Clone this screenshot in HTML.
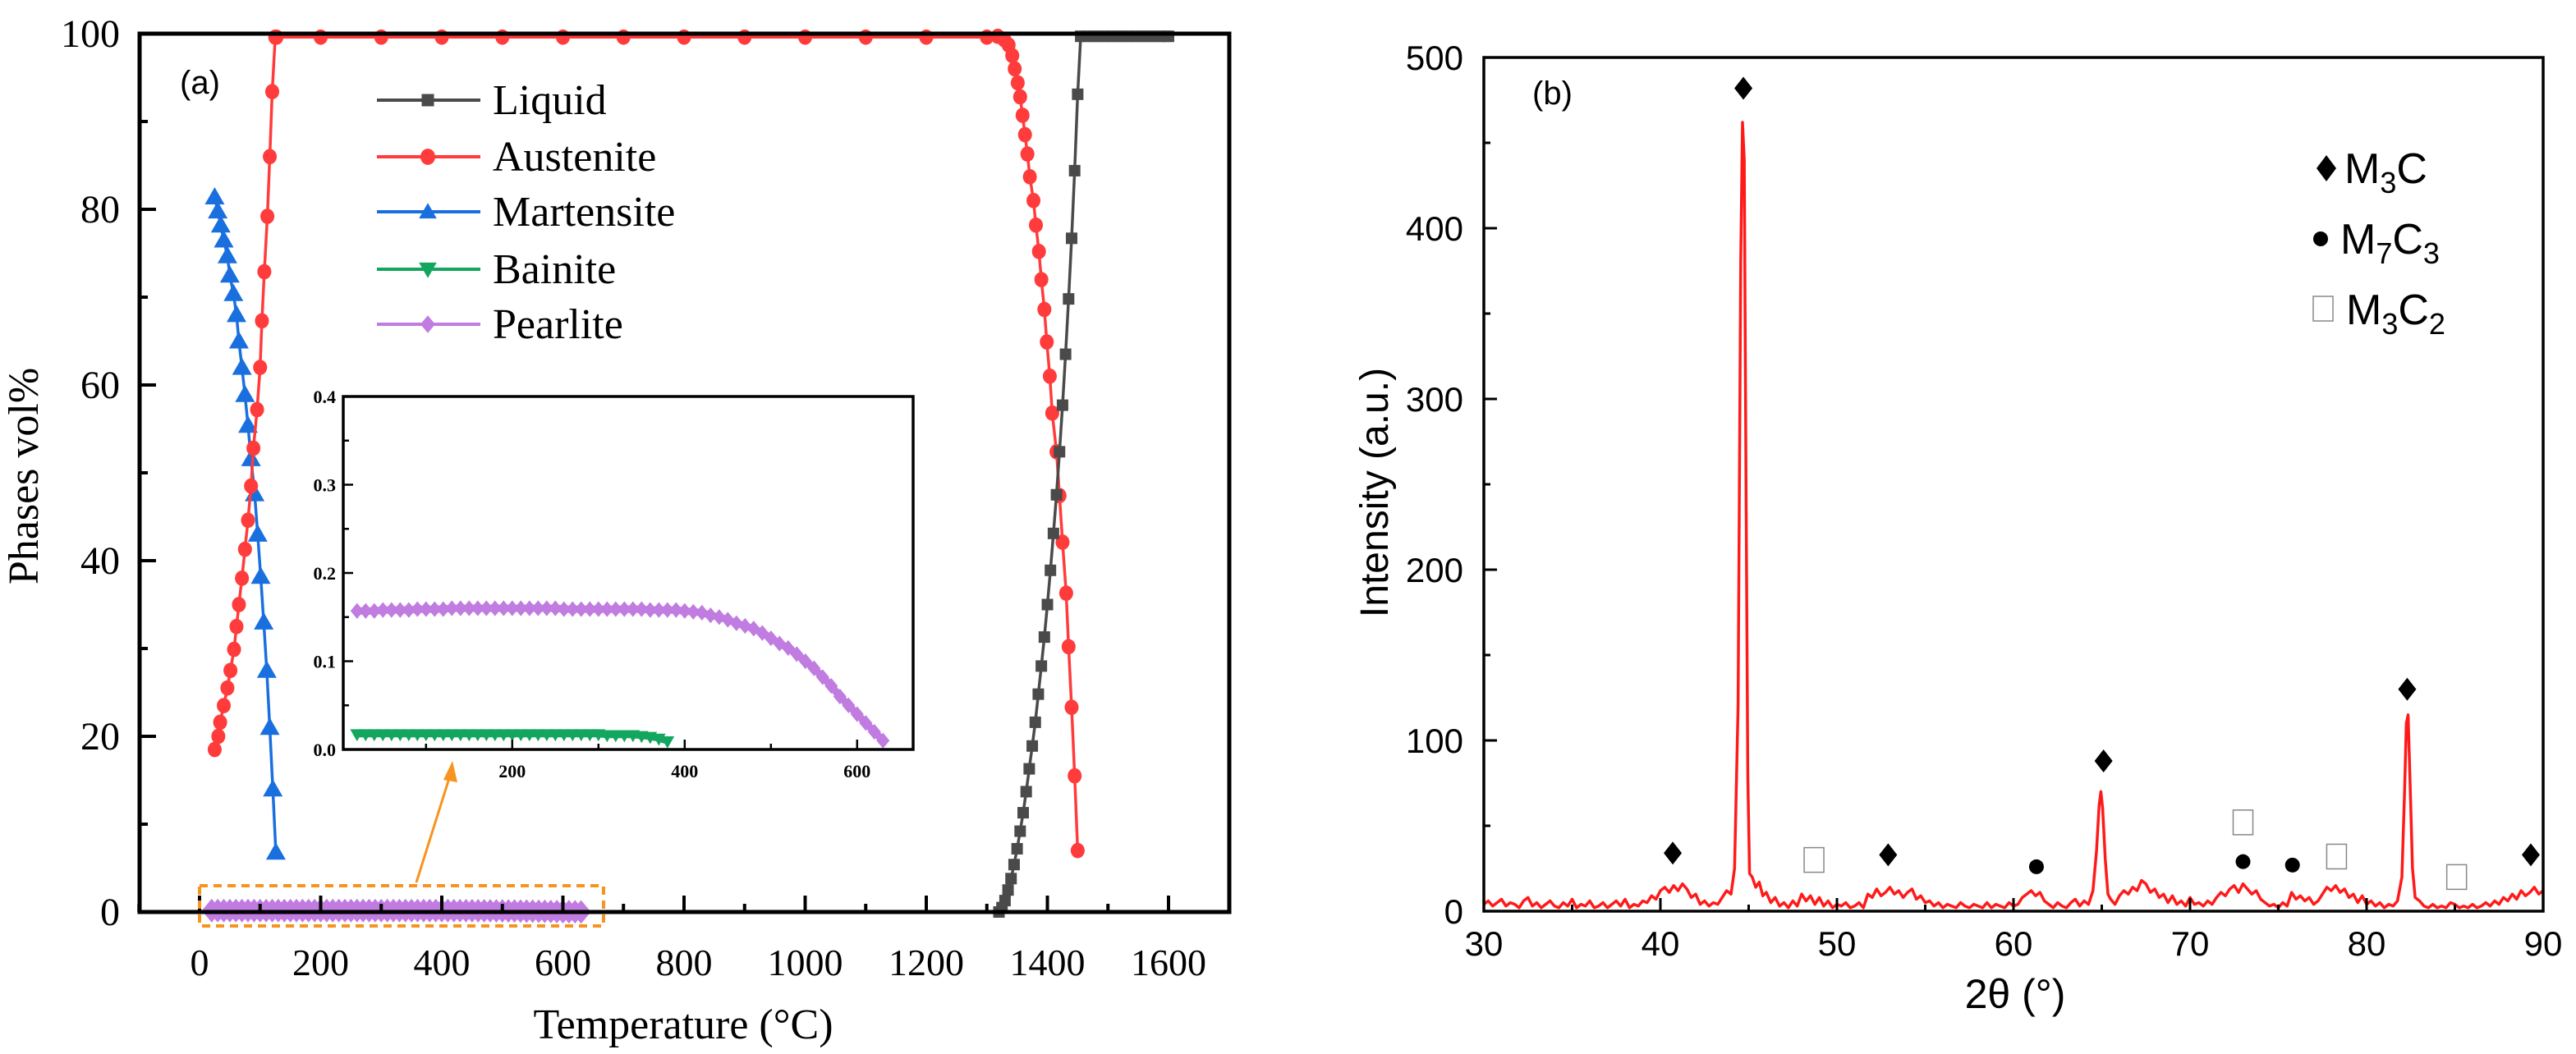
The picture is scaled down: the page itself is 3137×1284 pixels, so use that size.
<!DOCTYPE html>
<html><head><meta charset="utf-8"><style>
html,body{margin:0;padding:0;background:#fff;}
svg{display:block;}
.serif{font-family:"Liberation Serif",serif;}
.sans{font-family:"Liberation Sans",sans-serif;}
</style></head><body>
<svg id="fig" width="3137" height="1284" viewBox="0 0 3137 1284" xmlns="http://www.w3.org/2000/svg">
<rect width="3137" height="1284" fill="#fff"/>
<g id="left"></g>
<g id="inset"></g>
<g id="right"></g>
</svg>
<script>
// ---------- Panel (a) data ----------
const liqT = [1320,1325,1330,1335,1340,1345,1350,1355,1360,1365,1370,1375,1380,1385,1390,1395,1400,1405,1410,1415,1420,1425,1430,1435,1440,1445,1450,1455,1465,1475,1485,1495,1505,1515,1525,1535,1545,1555,1565,1575,1585,1595,1600];
const liqV = [0,0.5,1.3,2.5,3.8,5.4,7.2,9.2,11.3,13.7,16.3,18.9,21.6,24.8,28,31.3,35,38.9,43.1,47.5,52.4,57.7,63.5,69.8,76.7,84.4,93.1,99.7,99.7,99.7,99.7,99.7,99.7,99.7,99.7,99.7,99.7,99.7,99.7,99.7,99.7,99.7,99.7];
const ausT = [25,31,34,40,46,51,57,61,65,70,75,80,85,89,95,100,103,107,112,116,120,125,127,200,300,400,500,600,700,800,900,1000,1100,1200,1300,1318,1329,1336,1342,1346,1351,1355,1359,1363,1367,1371,1377,1381,1386,1390,1395,1399,1404,1408,1415,1420,1425,1431,1435,1440,1445,1450];
const ausV = [18.5,20,21.6,23.5,25.5,27.5,29.9,32.5,35,38,41.3,44.6,48.5,52.8,57.2,62,67.3,72.9,79.2,86,93.4,99.6,99.6,99.6,99.6,99.6,99.6,99.6,99.6,99.6,99.6,99.6,99.6,99.6,99.6,99.7,99.3,98.7,97.5,96,94.4,92.8,90.7,88.5,86.3,83.7,81,78.2,75.2,72,68.6,64.9,61,56.8,52.4,47.4,42.1,36.3,30.2,23.3,15.5,7];
const marT = [25,30,35,40,46,50,56,61,65,70,75,80,85,91,96,101,106,111,116,121,126];
const marV = [81.4,79.8,78.2,76.5,74.7,72.5,70.4,68,65,62,58.9,55.4,51.6,47.6,43,38.2,33,27.5,21,14,6.8];
const baiT = [20,30,40,50,60,70,80,90,100,110,120,130,140,150,160,170,180,190,200,210,220,230,240,250,260,270,280,290,300,310,320,330,340,350,360,370,380];
const baiV = [0.017,0.017,0.017,0.017,0.017,0.017,0.017,0.017,0.017,0.017,0.017,0.017,0.017,0.017,0.017,0.017,0.017,0.017,0.017,0.017,0.017,0.017,0.017,0.017,0.017,0.017,0.017,0.017,0.017,0.016,0.016,0.016,0.016,0.015,0.014,0.012,0.009];
const peaT = [20,30,40,50,60,70,80,90,100,110,120,130,140,150,160,170,180,190,200,210,220,230,240,250,260,270,280,290,300,310,320,330,340,350,360,370,380,390,400,410,420,430,440,450,460,470,480,490,500,510,520,530,540,550,560,570,580,590,600,610,620,630];
const peaV = [0.157,0.157,0.157,0.158,0.158,0.158,0.158,0.159,0.159,0.159,0.159,0.160,0.160,0.160,0.160,0.160,0.160,0.160,0.160,0.160,0.160,0.160,0.160,0.160,0.159,0.159,0.159,0.159,0.159,0.159,0.159,0.159,0.159,0.159,0.158,0.158,0.158,0.158,0.157,0.156,0.155,0.152,0.150,0.147,0.143,0.140,0.137,0.132,0.126,0.120,0.115,0.108,0.100,0.092,0.082,0.072,0.060,0.050,0.040,0.030,0.020,0.010];
const xTicksA = [0,200,400,600,800,1000,1200,1400,1600];
const yTicksA = [0,20,40,60,80,100];
const xTicksIn = [200,400,600];
const yTicksIn = ["0.0","0.1","0.2","0.3","0.4"];
// ---------- Panel (b) data ----------
const xrdX = [30,30.25,30.5,30.75,31,31.25,31.5,31.75,32,32.25,32.5,32.75,33,33.25,33.5,33.75,34,34.25,34.5,34.75,35,35.25,35.5,35.75,36,36.25,36.5,36.75,37,37.25,37.5,37.75,38,38.25,38.5,38.75,39,39.25,39.5,39.75,40,40.25,40.5,40.75,41,41.25,41.5,41.75,42,42.25,42.5,42.75,43,43.25,43.5,43.75,44,44.2,44.4,44.55,44.65,44.75,44.85,44.95,45.05,45.2,45.4,45.6,45.8,46,46.25,46.5,46.75,47,47.25,47.5,47.75,48,48.25,48.5,48.75,49,49.25,49.5,49.75,50,50.25,50.5,50.75,51,51.25,51.5,51.75,52,52.25,52.5,52.75,53,53.25,53.5,53.75,54,54.25,54.5,54.75,55,55.25,55.5,55.75,56,56.25,56.5,56.75,57,57.25,57.5,57.75,58,58.25,58.5,58.75,59,59.25,59.5,59.75,60,60.25,60.5,60.75,61,61.25,61.5,61.75,62,62.25,62.5,62.75,63,63.25,63.5,63.75,64,64.25,64.5,64.7,64.85,64.95,65.05,65.2,65.35,65.5,65.75,66,66.25,66.5,66.75,67,67.25,67.5,67.75,68,68.25,68.5,68.75,69,69.25,69.5,69.75,70,70.25,70.5,70.75,71,71.25,71.5,71.75,72,72.25,72.5,72.75,73,73.25,73.5,73.75,74,74.25,74.5,74.75,75,75.25,75.5,75.75,76,76.25,76.5,76.75,77,77.25,77.5,77.75,78,78.25,78.5,78.75,79,79.25,79.5,79.75,80,80.25,80.5,80.75,81,81.25,81.5,81.75,82,82.15,82.25,82.35,82.45,82.6,82.75,83,83.25,83.5,83.75,84,84.25,84.5,84.75,85,85.25,85.5,85.75,86,86.25,86.5,86.75,87,87.25,87.5,87.75,88,88.25,88.5,88.75,89,89.25,89.5,89.75,90];
const xrdY = [4,6,3,5,7,3,5,4,2,6,8,3,5,2,4,6,3,2,5,3,7,2,4,3,6,2,3,5,2,4,6,3,7,2,4,3,6,5,9,7,12,14,11,15,12,16,13,8,10,4,6,3,5,4,8,12,10,25,120,380,462,440,250,80,22,20,14,17,9,11,5,8,3,5,2,6,3,10,6,9,4,8,3,6,2,4,3,5,2,3,5,2,10,8,13,9,11,14,10,12,8,11,13,7,9,5,6,3,5,2,4,3,2,5,3,2,4,3,2,5,2,4,3,2,5,3,4,8,10,12,9,11,6,4,2,5,3,2,5,7,3,6,4,12,35,62,70,60,30,10,7,4,9,12,10,14,12,18,16,11,13,8,10,5,9,4,6,3,8,4,5,3,6,4,8,11,9,13,15,11,16,13,10,12,7,5,3,4,2,5,3,11,7,9,6,8,4,6,10,14,12,15,11,13,8,10,5,9,4,6,3,5,2,4,3,6,20,70,110,115,80,25,8,6,3,2,4,2,3,2,5,4,2,3,2,4,2,3,5,3,6,4,8,6,10,7,12,9,11,14,10,12];
const m3cX = [40.7,44.7,52.9,65.1,82.3,89.3];
const m3cY = [34,482,33,88,130,33];
const m7c3X = [61.3,73.0,75.8];
const m7c3Y = [26,29,27];
const m3c2X = [48.7,73.0,78.3,85.1];
const m3c2Y = [30,52,32,20];
const xTicksB = [30,40,50,60,70,80,90];
const yTicksB = [0,100,200,300,400,500];

const NS = "http://www.w3.org/2000/svg";
function mk(parent, tag, attrs){ const e=document.createElementNS(NS,tag); for(const k in attrs) e.setAttribute(k,attrs[k]); parent.appendChild(e); return e; }

const lx = T => 243 + T*0.7375, ly = v => 1111 - v*10.7;
const ix = T => 418 + (T-4)*1.05, iy = v => 913 - v*1075;
const rx = t => 1807 + (t-30)*21.5, ry = v => 1110 - v*2.08;

function marker(g, shape, x, y, s, color){
  let e;
  if(shape==='square') e = mk(g,'rect',{x:x-s/2,y:y-s/2,width:s,height:s,fill:color});
  else if(shape==='circle') e = mk(g,'ellipse',{cx:x,cy:y,rx:s/2,ry:s/2*1.1,fill:color});
  else if(shape==='tri') e = mk(g,'polygon',{points:`${x},${y-s*0.6} ${x-s*0.6},${y+s*0.45} ${x+s*0.6},${y+s*0.45}`,fill:color});
  else if(shape==='dtri') e = mk(g,'polygon',{points:`${x},${y+s*0.6} ${x-s*0.6},${y-s*0.45} ${x+s*0.6},${y-s*0.45}`,fill:color});
  else if(shape==='diamond') e = mk(g,'polygon',{points:`${x},${y-s*0.6} ${x+s*0.5},${y} ${x},${y+s*0.6} ${x-s*0.5},${y}`,fill:color});
  return e;
}
function series(g, name, xs, ys, fx, fy, color, shape, s, lw){
  const sg = mk(g,'g',{});
  
  
  const pts = xs.map((x,i)=>fx(x)+','+fy(ys[i])).join(' ');
  const pl = mk(sg,'polyline',{points:pts,fill:'none',stroke:color,'stroke-width':lw,'stroke-linejoin':'round'});
  
  
  xs.forEach((x,i)=>{
    const m = marker(sg, shape, fx(x), fy(ys[i]), s, color);
    
    
  });
}
function text(g, x, y, str, size, cls, anchor, name, extra){
  const t = mk(g,'text',Object.assign({x:x,y:y,'font-size':size,'class':cls,'text-anchor':anchor||'start',fill:'#000'},extra||{}));
  t.textContent = str;
  
  
  return t;
}

// ---------- Panel (a) ----------
const L = document.getElementById('left');
series(L,'bainite-main',baiT,baiV,lx,ly,'#12a65e','dtri',10,2);
series(L,'pearlite-main',peaT,peaV,lx,ly.bind(null),'#c07ce0','diamond',24,12);
series(L,'martensite',marT,marV,lx,ly,'#1a6fdf','tri',20,3.5);
series(L,'austenite',ausT,ausV,lx,ly,'#ff3b3b','circle',17,3.5);
series(L,'liquid',liqT,liqV,lx,ly,'#4a4a4a','square',14,3.5);
const fa = mk(L,'rect',{x:170,y:41,width:1327,height:1070,fill:'none',stroke:'#000','stroke-width':5});


xTicksA.forEach(T=>{
  const t = mk(L,'line',{x1:lx(T),x2:lx(T),y1:1111,y2:1091,stroke:'#000','stroke-width':4});
  
  
  const m = mk(L,'line',{x1:lx(T+100),x2:lx(T+100),y1:1111,y2:1101,stroke:'#000','stroke-width':4});
  
  
  text(L,lx(T),1188,String(T),46,'serif','middle','x-tick-label');
});
const m0 = mk(L,'line',{x1:lx(-100),x2:lx(-100),y1:1111,y2:1101,stroke:'#000','stroke-width':4});


yTicksA.forEach(v=>{
  const t = mk(L,'line',{x1:170,x2:190,y1:ly(v),y2:ly(v),stroke:'#000','stroke-width':4});
  
  
  if(v<100){ const m = mk(L,'line',{x1:170,x2:180,y1:ly(v+10),y2:ly(v+10),stroke:'#000','stroke-width':4});
    
     }
  text(L,146,ly(v)+16,String(v),48,'serif','end','y-tick-label');
});
text(L,832,1265,'Temperature (°C)',52,'serif','middle','x-axis-title');
text(L,46,580,'Phases vol%',52,'serif','middle','y-axis-title',{transform:'rotate(-90 46 580)'});
text(L,219,114,'(a)',40,'sans','start','panel-label-a');
const legA = [['Liquid','#4a4a4a','square'],['Austenite','#ff3b3b','circle'],['Martensite','#1a6fdf','tri'],['Bainite','#12a65e','dtri'],['Pearlite','#c07ce0','diamond']];
const legRows = [122,191,258,328,395];
const lg = mk(L,'g',{});


legA.forEach((d,i)=>{
  const y = legRows[i];
  const ln = mk(lg,'line',{x1:459,x2:585,y1:y,y2:y,stroke:d[1],'stroke-width':4});
  
  
  const mm = marker(lg,d[2],521,y,d[2]==='square'?15:18,d[1]);
  
  
  text(lg,600,y+17,d[0],52,'serif','start','legend-entry');
});
const zb = mk(L,'rect',{x:243,y:1079,width:492,height:49,fill:'none',stroke:'#f7931e','stroke-width':4,'stroke-dasharray':'10 7'});


const ar = mk(L,'line',{x1:507,y1:1075,x2:548,y2:945,stroke:'#f7931e','stroke-width':3});


const ah = mk(L,'polygon',{points:'551,927 540,950 557,953',fill:'#f7931e'});



// ---------- Inset ----------
const I = document.getElementById('inset');
const ib = mk(I,'rect',{x:418,y:483,width:694,height:430,fill:'#fff',stroke:'none'});


series(I,'pearlite-inset',peaT,peaV,ix,iy,'#c07ce0','diamond',16,9);
series(I,'bainite-inset',baiT,baiV,ix,iy,'#12a65e','dtri',14,7);
const fi = mk(I,'rect',{x:418,y:483,width:694,height:430,fill:'none',stroke:'#000','stroke-width':3.5});


xTicksIn.forEach(T=>{
  const t = mk(I,'line',{x1:ix(T),x2:ix(T),y1:913,y2:901,stroke:'#000','stroke-width':2.5});
  
  
  const m = mk(I,'line',{x1:ix(T-100),x2:ix(T-100),y1:913,y2:906,stroke:'#000','stroke-width':2.5});
  
  
  text(I,ix(T),947,String(T),22,'serif','middle','inset-x-tick-label',{'font-weight':'bold'});
});
yTicksIn.forEach(s=>{
  const v = parseFloat(s);
  const t = mk(I,'line',{x1:418,x2:430,y1:iy(v),y2:iy(v),stroke:'#000','stroke-width':2.5});
  
  
  if(v<0.4){ const m = mk(I,'line',{x1:418,x2:425,y1:iy(v+0.05),y2:iy(v+0.05),stroke:'#000','stroke-width':2.5});
    
     }
  text(I,409,iy(v)+8,s,22,'serif','end','inset-y-tick-label',{'font-weight':'bold'});
});

// ---------- Panel (b) ----------
const R = document.getElementById('right');
const xp = xrdX.map((t,i)=>rx(t)+','+ry(xrdY[i])).join(' ');
const xl = mk(R,'polyline',{points:xp,fill:'none',stroke:'#ff1a1a','stroke-width':3.5,'stroke-linejoin':'round'});


m3cX.forEach((t,i)=>{
  const m = mk(R,'polygon',{points:`${rx(t)},${ry(m3cY[i])-14} ${rx(t)+11},${ry(m3cY[i])} ${rx(t)},${ry(m3cY[i])+14} ${rx(t)-11},${ry(m3cY[i])}`,fill:'#000'});
  
  
});
m7c3X.forEach((t,i)=>{
  const m = mk(R,'circle',{cx:rx(t),cy:ry(m7c3Y[i]),r:9,fill:'#000'});
  
  
});
m3c2X.forEach((t,i)=>{
  const m = mk(R,'rect',{x:rx(t)-12,y:ry(m3c2Y[i])-15,width:24,height:30,fill:'#fff',stroke:'#888','stroke-width':1.5});
  
  
});
const fb = mk(R,'rect',{x:1807,y:70,width:1290,height:1040,fill:'none',stroke:'#000','stroke-width':3.5});


xTicksB.forEach(t=>{
  const k = mk(R,'line',{x1:rx(t),x2:rx(t),y1:1110,y2:1094,stroke:'#000','stroke-width':3});
  
  
  if(t<90){ const m = mk(R,'line',{x1:rx(t+5),x2:rx(t+5),y1:1110,y2:1102,stroke:'#000','stroke-width':3});
    
     }
  text(R,rx(t),1164,String(t),42,'sans','middle','x-tick-label');
});
yTicksB.forEach(v=>{
  const k = mk(R,'line',{x1:1807,x2:1823,y1:ry(v),y2:ry(v),stroke:'#000','stroke-width':3});
  
  
  if(v<500){ const m = mk(R,'line',{x1:1807,x2:1815,y1:ry(v+50),y2:ry(v+50),stroke:'#000','stroke-width':3});
    
     }
  text(R,1782,ry(v)+15,String(v),42,'sans','end','y-tick-label');
});
text(R,2454,1228,'2θ (°)',50,'sans','middle','x-axis-title');
text(R,1690,600,'Intensity (a.u.)',48,'sans','middle','y-axis-title',{transform:'rotate(-90 1690 600)'});
text(R,1866,127,'(b)',40,'sans','start','panel-label-b');
const lb = mk(R,'g',{});


const ld = mk(lb,'polygon',{points:'2833,189 2845,205 2833,221 2821,205',fill:'#000'});


const lc = mk(lb,'circle',{cx:2826,cy:291,r:9,fill:'#000'});


const ls = mk(lb,'rect',{x:2817,y:361,width:24,height:30,fill:'#fff',stroke:'#888','stroke-width':1.5});


const t1 = text(lb,2855,223,'',52,'sans','start','legend-entry-m3c'); t1.innerHTML='M<tspan font-size="36" dy="12">3</tspan><tspan dy="-12">C</tspan>';
const t2 = text(lb,2850,309,'',52,'sans','start','legend-entry-m7c3'); t2.innerHTML='M<tspan font-size="36" dy="12">7</tspan><tspan dy="-12">C</tspan><tspan font-size="36" dy="12">3</tspan>';
const t3 = text(lb,2857,395,'',52,'sans','start','legend-entry-m3c2'); t3.innerHTML='M<tspan font-size="36" dy="12">3</tspan><tspan dy="-12">C</tspan><tspan font-size="36" dy="12">2</tspan>';
</script>
</body></html>
